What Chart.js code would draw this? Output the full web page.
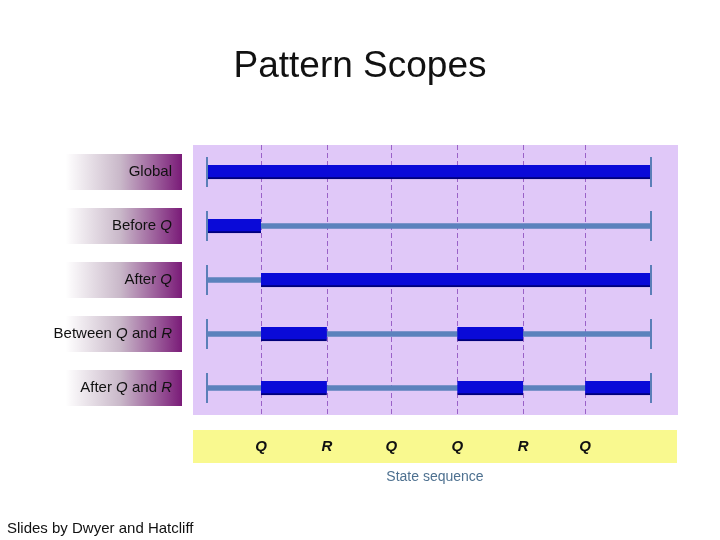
<!DOCTYPE html>
<html><head><meta charset="utf-8">
<script src="https://cdn.jsdelivr.net/npm/chart.js@4"></script>
<style>
body{margin:0;width:720px;height:540px;background:#fff;position:relative;overflow:hidden;font-family:"Liberation Sans",Arial,sans-serif}
#c{position:absolute;left:0;top:0}
.t{position:absolute;white-space:nowrap}
.lab{position:absolute;left:45px;width:137px;height:36px;background:linear-gradient(to right,#ffffff 0%,#ffffff 15%,#c9b8c9 55%,#7a1b78 100%)}
.lab.w{left:45px}
.lt{position:absolute;right:548px;font-size:15px;color:#111;white-space:nowrap}
.ev{position:absolute;top:437px;font-weight:bold;font-style:italic;font-size:15px;color:#111;transform:translateX(-50%)}
</style></head><body>
<canvas id="c" width="720" height="540"></canvas>
<div class="t" style="left:0;width:720px;top:44px;text-align:center;font-size:37px;color:#111;padding-left:0">Pattern Scopes</div>
<div class="t" style="left:193px;width:484px;top:430px;height:33px;background:#f9f98f"></div>
<div class="t" style="left:193px;width:484px;top:468px;text-align:center;font-size:14px;color:#4e7190">State sequence</div>
<div class="t" style="left:7px;top:519px;font-size:15px;color:#111">Slides by Dwyer and Hatcliff</div>
<div id="labs"></div>
<div id="evs"></div>
<script>
const scopes=["Global","Before <i>Q</i>","After <i>Q</i>","Between <i>Q</i> and <i>R</i>","After <i>Q</i> and <i>R</i>"];
const rows=["Global","Before Q","After Q","Between Q and R","After Q and R"];
const events=["Q","R","Q","Q","R","Q"];
const eventPos=[0.82,1.82,2.8,3.8,4.8,5.74];
const seqStart=0, seqEnd=6.74;
const seg1=[[0,6.74],[0,0.82],[0.82,6.74],[0.82,1.82],[0.82,1.82]];
const seg2=[null,null,null,[3.8,4.8],[3.8,4.8]];
const seg3=[null,null,null,null,[5.74,6.74]];
const fullLine=rows.map(()=>[seqStart,seqEnd]);

const deco={id:'deco',
 beforeDatasetsDraw(ch){const {ctx,chartArea:a,scales:{x}}=ch;ctx.save();
  ctx.fillStyle='#e0c8f8';ctx.fillRect(a.left,a.top,a.right-a.left,a.bottom-a.top);
  ctx.strokeStyle='#9a62c8';ctx.lineWidth=1;ctx.setLineDash([5,3]);
  eventPos.forEach(v=>{const px=Math.round(x.getPixelForValue(v))+0.5;ctx.beginPath();ctx.moveTo(px,a.top);ctx.lineTo(px,a.bottom);ctx.stroke();});
  ctx.restore();},
 afterDatasetsDraw(ch){const {ctx,scales:{x,y}}=ch;ctx.save();ctx.strokeStyle='#5b7fb8';ctx.lineWidth=2;
  rows.forEach((r,i)=>{const cy=y.getPixelForValue(i);[seqStart,seqEnd].forEach(v=>{const px=x.getPixelForValue(v);ctx.beginPath();ctx.moveTo(px,cy-15);ctx.lineTo(px,cy+15);ctx.stroke();});});
  ctx.restore();}};

const thick={backgroundColor:'#0a0ad8',borderColor:'#00007a',borderWidth:{bottom:2,top:0,left:0,right:0},borderSkipped:false,barThickness:14,grouped:false,order:1};
const ch=new Chart(document.getElementById('c'),{type:'bar',
 data:{labels:rows,datasets:[
  {data:fullLine,backgroundColor:'#5b82bd',barThickness:5,grouped:false,order:3},
  Object.assign({data:seg1},thick),Object.assign({data:seg2},thick),Object.assign({data:seg3},thick)]},
 options:{indexAxis:'y',responsive:false,animation:false,
  layout:{padding:{left:193,right:42,top:145,bottom:125}},
  plugins:{legend:{display:false},tooltip:{enabled:false}},
  scales:{x:{type:'linear',min:-0.2125,max:7.15,display:false},y:{display:false,offset:true}}},
 plugins:[deco]});

const ys=ch.scales.y, xs=ch.scales.x;
let h='';scopes.forEach((s,i)=>{const cy=ys.getPixelForValue(i);h+=`<div class="lab" style="top:${cy-18}px"></div><div class="lt" style="top:${cy-10}px">${s}</div>`;});
document.getElementById('labs').innerHTML=h;
let e='';events.forEach((s,i)=>{e+=`<div class="ev" style="left:${xs.getPixelForValue(eventPos[i])}px">${s}</div>`;});
document.getElementById('evs').innerHTML=e;
</script></body></html>
